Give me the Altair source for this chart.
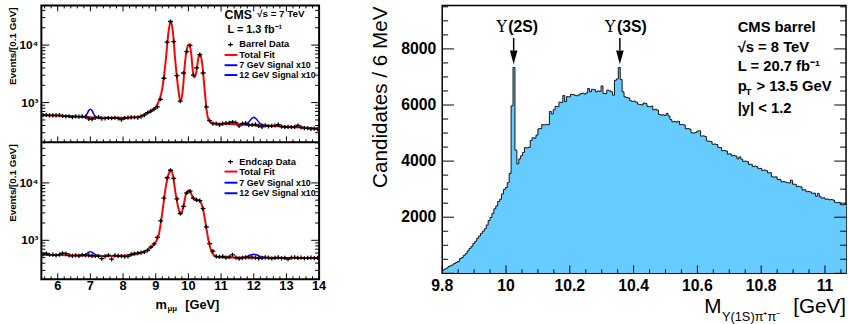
import altair as alt
import pandas as pd

FONT = "Liberation Sans"

# ---------------- left panels: dimuon mass, 0.1 GeV bins ----------------
mass_centers = [round(5.55 + 0.1 * k, 2) for k in range(85)]

barrel_counts = [
    605, 610, 600, 600, 598, 608, 590, 575, 580, 560,
    578, 570, 575, 565, 520, 515, 545, 560, 525, 530,
    540, 535, 545, 530, 505, 540, 548, 552, 556, 548,
    569, 608, 667, 713, 771, 844, 1143, 2650, 11260, 25700,
    11530, 2945, 1057, 3270, 7680, 9840, 3000, 4000, 6820, 3270,
    844, 487, 431, 431, 410, 431, 440, 445, 460, 450,
    395, 430, 440, 405, 410, 420, 395, 380, 402, 385,
    395, 400, 415, 383, 375, 378, 376, 380, 400, 372,
    360, 358, 350, 352, 345]

endcap_counts = [
    570, 590, 560, 565, 548, 565, 595, 585, 548, 535,
    548, 535, 560, 550, 548, 535, 535, 530, 480, 525,
    550, 470, 548, 535, 530, 520, 525, 570, 590, 600,
    610, 625, 668, 760, 867, 1125, 2190, 5410, 12300, 16600,
    12000, 5270, 2930, 3900, 6670, 7210, 5410, 5060, 4930, 3560,
    1710, 879, 650, 527, 514, 527, 501, 515, 560, 500,
    480, 495, 505, 510, 505, 500, 485, 495, 505, 500,
    482, 495, 505, 485, 495, 470, 500, 505, 495, 500,
    485, 495, 500, 490, 495]

barrel_fit_m = [5.5, 6.0, 6.5, 7.0, 7.5, 8.0, 8.3, 8.5, 8.7, 8.9,
                9.0, 9.1, 9.2, 9.3, 9.4, 9.46, 9.52, 9.6, 9.7, 9.76,
                9.82, 9.9, 9.98, 10.02, 10.08, 10.14, 10.19, 10.25, 10.31, 10.36,
                10.42, 10.5, 10.56, 10.62, 10.7, 10.8, 11.0, 11.5, 12.0, 12.5,
                13.0, 13.5, 14.0]
barrel_fit_v = [605, 590, 572, 555, 545, 545, 552, 572, 640, 740,
                830, 1080, 1750, 5000, 18500, 26000, 18000, 5200, 1550, 1030,
                1500, 5200, 9700, 10200, 7600, 3400, 2750, 3600, 6200, 6900,
                4800, 1600, 720, 500, 445, 435, 430, 420, 405, 395,
                380, 368, 355]

endcap_fit_m = [5.5, 6.0, 6.5, 7.0, 7.5, 8.0, 8.3, 8.5, 8.7, 8.9,
                9.0, 9.1, 9.2, 9.3, 9.4, 9.46, 9.52, 9.6, 9.7, 9.77,
                9.84, 9.92, 10.0, 10.06, 10.14, 10.22, 10.32, 10.4, 10.48, 10.56,
                10.64, 10.72, 10.8, 10.9, 11.0, 11.5, 12.0, 12.5, 13.0, 13.5,
                14.0]
endcap_fit_v = [560, 555, 545, 540, 535, 540, 560, 595, 660, 790,
                930, 1300, 3000, 8000, 14500, 16800, 14000, 7000, 3500, 2850,
                3700, 6200, 7400, 7000, 5500, 5000, 4950, 4300, 2800, 1500,
                850, 620, 540, 510, 505, 500, 498, 495, 492, 490,
                490]

sig7_barrel_m = [6.8, 6.85, 6.9, 6.95, 7.0, 7.05, 7.1, 7.15, 7.2]
sig7_barrel_v = [556, 575, 640, 730, 770, 730, 640, 575, 556]
sig12_barrel_m = [11.7, 11.8, 11.9, 12.0, 12.1, 12.2, 12.3]
sig12_barrel_v = [414, 430, 500, 555, 500, 430, 412]
sig7_endcap_m = [6.75, 6.85, 6.95, 7.0, 7.05, 7.15, 7.25]
sig7_endcap_v = [541, 560, 620, 635, 620, 560, 540]
sig12_endcap_m = [11.6, 11.7, 11.8, 11.9, 12.0, 12.1, 12.2, 12.3, 12.4]
sig12_endcap_v = [499, 506, 525, 555, 570, 555, 525, 506, 498]

left_x_ticks = [6, 7, 8, 9, 10, 11, 12, 13, 14]
left_x_labels = ["6", "7", "8", "9", "10", "11", "12", "13", "14"]
left_y_ticks = [1000, 10000]
left_y_labels = ["10³", "10⁴"]

# ---------------- right panel: Y(1S) pi+ pi- mass, 6 MeV bins ----------------
hist_counts = [
    110, 150, 185, 240, 270, 300, 350, 385, 420, 520,
    560, 640, 700, 800, 890, 960, 1060, 1140, 1250, 1330,
    1420, 1500, 1590, 1720, 1880, 1990, 2140, 2300, 2400, 2560,
    2640, 2830, 2990, 3060, 3230, 3560, 5970, 7340, 4390, 3900,
    4080, 4190, 4310, 4480, 4470, 4490, 4740, 4830, 4820, 4930,
    5150, 5160, 5300, 5290, 5310, 5300, 5770, 5680, 5830, 5950,
    5940, 6100, 6090, 6340, 6120, 6300, 6290, 6380, 6370, 6350,
    6330, 6360, 6400, 6420, 6390, 6430, 6590, 6470, 6560, 6550,
    6470, 6500, 6490, 6680, 6410, 6400, 6530, 6510, 6470, 6350,
    6880, 6930, 7340, 6910, 6470, 6290, 6270, 6250, 6150, 6130,
    6140, 6100, 6030, 6020, 6000, 6070, 6050, 5950, 5940, 5960,
    5830, 5850, 5820, 5660, 5640, 5650, 5630, 5700, 5610, 5480,
    5400, 5410, 5390, 5420, 5300, 5310, 5290, 5150, 5160, 5140,
    5010, 5000, 5020, 5070, 5080, 4890, 4900, 4880, 4720, 4710,
    4700, 4600, 4610, 4590, 4490, 4480, 4370, 4380, 4360, 4250,
    4260, 4190, 4200, 4180, 4080, 4150, 4070, 3990, 4000, 3980,
    3880, 3890, 3810, 3820, 3800, 3730, 3740, 3670, 3680, 3660,
    3580, 3590, 3440, 3430, 3440, 3340, 3350, 3260, 3270, 3250,
    3230, 3220, 3320, 3180, 3170, 3090, 3100, 3080, 2970, 2980,
    2910, 2920, 2900, 2850, 2860, 2750, 2850, 2730, 2680, 2690,
    2640, 2650, 2620, 2630, 2610, 2530, 2520, 2530, 2450, 2440, 2450]
hist_start, hist_width = 9.8, 0.006
right_x_ticks = [9.8, 10.0, 10.2, 10.4, 10.6, 10.8, 11.0]
right_x_labels = ["9.8", "10", "10.2", "10.4", "10.6", "10.8", "11"]
right_y_ticks = [2000, 4000, 6000, 8000]
right_y_labels = ["2000", "4000", "6000", "8000"]
peak_masses = [10.024, 10.357]

# ---------------- helpers ----------------
ONE = pd.DataFrame({"d": [0]})
CROSS = "M-1,0L1,0M0,-0.85L0,0.85"


def txt(text, x, y, size, bold=True, align="left", angle=0, font=FONT):
    return alt.Chart(ONE).mark_text(
        text=text, font=font, fontSize=size,
        fontWeight="bold" if bold else "normal",
        align=align, baseline="middle", angle=angle, color="black",
    ).encode(x=alt.value(x), y=alt.value(y))


def hline(x0, x1, y, color, width=2):
    return alt.Chart(ONE).mark_rule(color=color, strokeWidth=width).encode(
        x=alt.value(x0), x2=alt.value(x1), y=alt.value(y))


def cross(x, y):
    return alt.Chart(ONE).mark_point(
        shape=CROSS, filled=False, color="black", strokeWidth=1.3, size=25, opacity=1
    ).encode(x=alt.value(x), y=alt.value(y))


def xticks(vals, scale, y0, y1):
    return alt.Chart(pd.DataFrame({"v": vals})).mark_rule(color="black", strokeWidth=1).encode(
        x=alt.X("v:Q", scale=scale, axis=None), y=alt.value(y0), y2=alt.value(y1))


def yticks(vals, scale, x0, x1):
    return alt.Chart(pd.DataFrame({"v": vals})).mark_rule(color="black", strokeWidth=1).encode(
        y=alt.Y("v:Q", scale=scale, axis=None), x=alt.value(x0), x2=alt.value(x1))


def xlabels(vals, labels, scale, y, size):
    return alt.Chart(pd.DataFrame({"v": vals, "t": labels})).mark_text(
        font=FONT, fontSize=size, fontWeight="bold", align="center", baseline="middle", color="black"
    ).encode(x=alt.X("v:Q", scale=scale, axis=None), y=alt.value(y), text="t:N")


def ylabels(vals, labels, scale, x, size):
    return alt.Chart(pd.DataFrame({"v": vals, "t": labels})).mark_text(
        font=FONT, fontSize=size, fontWeight="bold", align="right", baseline="middle", color="black"
    ).encode(y=alt.Y("v:Q", scale=scale, axis=None), x=alt.value(x), text="t:N")


W_L, H_P = 282, 139          # each left sub-panel is 139 px tall, stacked
W_R, H_R = 410, 272
XS_L = alt.Scale(domain=[5.5, 14], nice=False, zero=False)


def left_layers(counts, fit_m, fit_v, s7m, s7v, s12m, s12v, ydom, oy, bottom, data_label, leg_y):
    xs = XS_L
    ys = alt.Scale(type="log", domain=ydom, nice=False, range=[oy + H_P, oy])
    fit = alt.Chart(pd.DataFrame({"m": fit_m, "v": fit_v})).mark_line(
        color="#ff0000", strokeWidth=2, interpolate="monotone", clip=True
    ).encode(x=alt.X("m:Q", scale=xs, axis=None), y=alt.Y("v:Q", scale=ys, axis=None))
    s7 = alt.Chart(pd.DataFrame({"m": s7m, "v": s7v})).mark_line(
        color="#0000ff", strokeWidth=1.5, interpolate="monotone", clip=True
    ).encode(x=alt.X("m:Q", scale=xs, axis=None), y=alt.Y("v:Q", scale=ys, axis=None))
    s12 = alt.Chart(pd.DataFrame({"m": s12m, "v": s12v})).mark_line(
        color="#0000ff", strokeWidth=1.5, interpolate="monotone", clip=True
    ).encode(x=alt.X("m:Q", scale=xs, axis=None), y=alt.Y("v:Q", scale=ys, axis=None))
    pts = alt.Chart(pd.DataFrame({"m": mass_centers, "n": counts})).mark_point(
        shape=CROSS, filled=False, color="black", strokeWidth=1.3, size=25, opacity=1, clip=True
    ).encode(x=alt.X("m:Q", scale=xs, axis=None), y=alt.Y("n:Q", scale=ys, axis=None))

    minor_x = [round(5.6 + 0.2 * i, 1) for i in range(43)]
    minor_x = [v for v in minor_x if abs(v - round(v)) > 1e-6]
    major_y = [v for v in left_y_ticks if ydom[0] <= v <= ydom[1]]
    minor_y = [d * 10 ** e for e in (2, 3, 4) for d in range(2, 10)
               if ydom[0] <= d * 10 ** e <= ydom[1]]
    yb = oy + H_P
    layers = [
        fit, s7, s12, pts,
        xticks(left_x_ticks, xs, yb, yb - 6), xticks(minor_x, xs, yb, yb - 3),
        yticks(major_y, ys, 0, 8), yticks(minor_y, ys, 0, 4),
        yticks(major_y, ys, W_L - 8, W_L), yticks(minor_y, ys, W_L - 4, W_L),
        ylabels(left_y_ticks, left_y_labels, ys, -3, 12),
        cross(192, oy + leg_y[0]), txt(data_label, 201, oy + leg_y[0], 9.5),
        hline(186, 199, oy + leg_y[1], "#ff0000"), txt("Total Fit", 201, oy + leg_y[1], 9.5),
        hline(186, 199, oy + leg_y[2], "#0000ff"), txt("7 GeV Signal x10", 201, oy + leg_y[2], 9),
        hline(186, 199, oy + leg_y[3], "#0000ff"), txt("12 GeV Signal x10", 201, oy + leg_y[3], 9),
        txt("Events/[0.1 GeV]", -29, oy + 2, 10, align="right", angle=270),
    ]
    if bottom:
        layers += [
            xlabels(left_x_ticks, left_x_labels, xs, yb + 7, 13),
            txt("m", 116, yb + 26, 13),
            txt("μμ", 128, yb + 30, 8),
            txt("[GeV]", 146, yb + 26, 13),
        ]
    else:
        layers += [
            xticks(left_x_ticks, xs, 0, 6), xticks(minor_x, xs, 0, 3),
            txt("CMS", 186, 9.5, 12.5),
            txt("√s = 7 TeV", 219, 8.5, 10),
            txt("L = 1.3 fb⁻¹", 189, 24.5, 11),
        ]
    return layers


top_layers = left_layers(barrel_counts, barrel_fit_m, barrel_fit_v, sig7_barrel_m, sig7_barrel_v,
                         sig12_barrel_m, sig12_barrel_v, [204, 48900], 0, False, "Barrel Data",
                         [39.7, 50.3, 60.7, 70.7])
bot_layers = left_layers(endcap_counts, endcap_fit_m, endcap_fit_v, sig7_endcap_m, sig7_endcap_v,
                         sig12_endcap_m, sig12_endcap_v, [210, 50900], H_P, True, "Endcap Data",
                         [19.7, 29.7, 41.0, 51.7])
divider = hline(0, W_L, H_P, "black", 2)
left = alt.layer(*top_layers, *bot_layers, divider).resolve_scale(y="independent").properties(
    width=W_L, height=2 * H_P, view=alt.ViewBackground(stroke="black", strokeWidth=2))

# ---------------- right panel ----------------
edges = [round(hist_start + hist_width * i, 3) for i in range(len(hist_counts) + 1)]
hist_df = pd.DataFrame({"e": edges, "n": hist_counts + [hist_counts[-1]]})
xsR = alt.Scale(domain=[9.8, 11.066], nice=False, zero=False)
ysR = alt.Scale(domain=[0, 9550], nice=False, zero=False)
area = alt.Chart(hist_df).mark_area(interpolate="step-after", color="#66ccff", opacity=1, clip=True).encode(
    x=alt.X("e:Q", scale=xsR, axis=None), y=alt.Y("n:Q", scale=ysR, axis=None))
outline = alt.Chart(hist_df).mark_line(interpolate="step-after", color="#111111", strokeWidth=1, clip=True).encode(
    x=alt.X("e:Q", scale=xsR, axis=None), y=alt.Y("n:Q", scale=ysR, axis=None))

minor_xr = [round(9.8 + 0.05 * i, 2) for i in range(26)]
minor_xr = [v for v in minor_xr if abs(v * 5 - round(v * 5)) > 1e-6]
major_yr = [0] + right_y_ticks
minor_yr = [500 * i for i in range(1, 20) if i % 4 != 0]
ticksR = [
    xticks(right_x_ticks, xsR, H_R, H_R - 8), xticks(minor_xr, xsR, H_R, H_R - 4),
    yticks(major_yr, ysR, 0, 12), yticks(minor_yr, ysR, 0, 6),
    yticks(major_yr, ysR, W_R - 12, W_R), yticks(minor_yr, ysR, W_R - 6, W_R),
    xlabels(right_x_ticks, right_x_labels, xsR, H_R + 12.5, 16),
    ylabels(right_y_ticks, right_y_labels, ysR, -6, 16),
]

arrow_df = pd.DataFrame({"m": peak_masses, "top": [8390, 8390], "bot": [7950, 7950], "tip": [7700, 7700]})
arrow_shaft = alt.Chart(arrow_df).mark_rule(color="black", strokeWidth=1.5).encode(
    x=alt.X("m:Q", scale=xsR, axis=None), y=alt.Y("top:Q", scale=ysR, axis=None), y2="bot:Q")
arrow_head = alt.Chart(arrow_df).mark_point(
    shape="M-0.55,-1L0.55,-1L0,1Z", filled=True, color="black", size=196, opacity=1
).encode(x=alt.X("m:Q", scale=xsR, axis=None), y=alt.Y("tip:Q", scale=ysR, axis=None))

textsR = [
    txt("Υ", 60.5, 22, 16, bold=False, align="center", font="DejaVu Serif"),
    txt("(2S)", 67, 22, 16),
    txt("Υ", 170.5, 22, 16, bold=False, align="center", font="DejaVu Serif"),
    txt("(3S)", 177.5, 22, 16),
    txt("CMS barrel", 300, 22, 15),
    txt("√s = 8 TeV", 300, 42, 15),
    txt("L = 20.7 fb⁻¹", 300, 61.5, 15),
    txt("p", 300, 82, 15),
    txt("T", 308, 88, 10),
    txt("> 13.5 GeV", 319, 82, 15),
    txt("|y| < 1.2", 300, 104, 15),
    txt("Candidates / 6 MeV", -62, 1, 21, bold=False, align="right", angle=270),
    txt("M", 266, H_R + 34, 21, bold=False),
    txt("Υ(1S)π⁺π⁻", 284, H_R + 44, 13, bold=False),
    txt("[GeV]", W_R, H_R + 34, 21, bold=False, align="right"),
]

right = alt.layer(area, outline, *ticksR, arrow_shaft, arrow_head, *textsR).properties(
    width=W_R, height=H_R, view=alt.ViewBackground(stroke="black", strokeWidth=1.5))

chart = alt.hconcat(left, right, spacing=42).properties(
    padding={"left": 7, "top": 1, "right": 0, "bottom": 0},
    background="white",
).configure_view(stroke="black")

chart.save("out.html", embed_options={"renderer": "svg", "actions": False})
